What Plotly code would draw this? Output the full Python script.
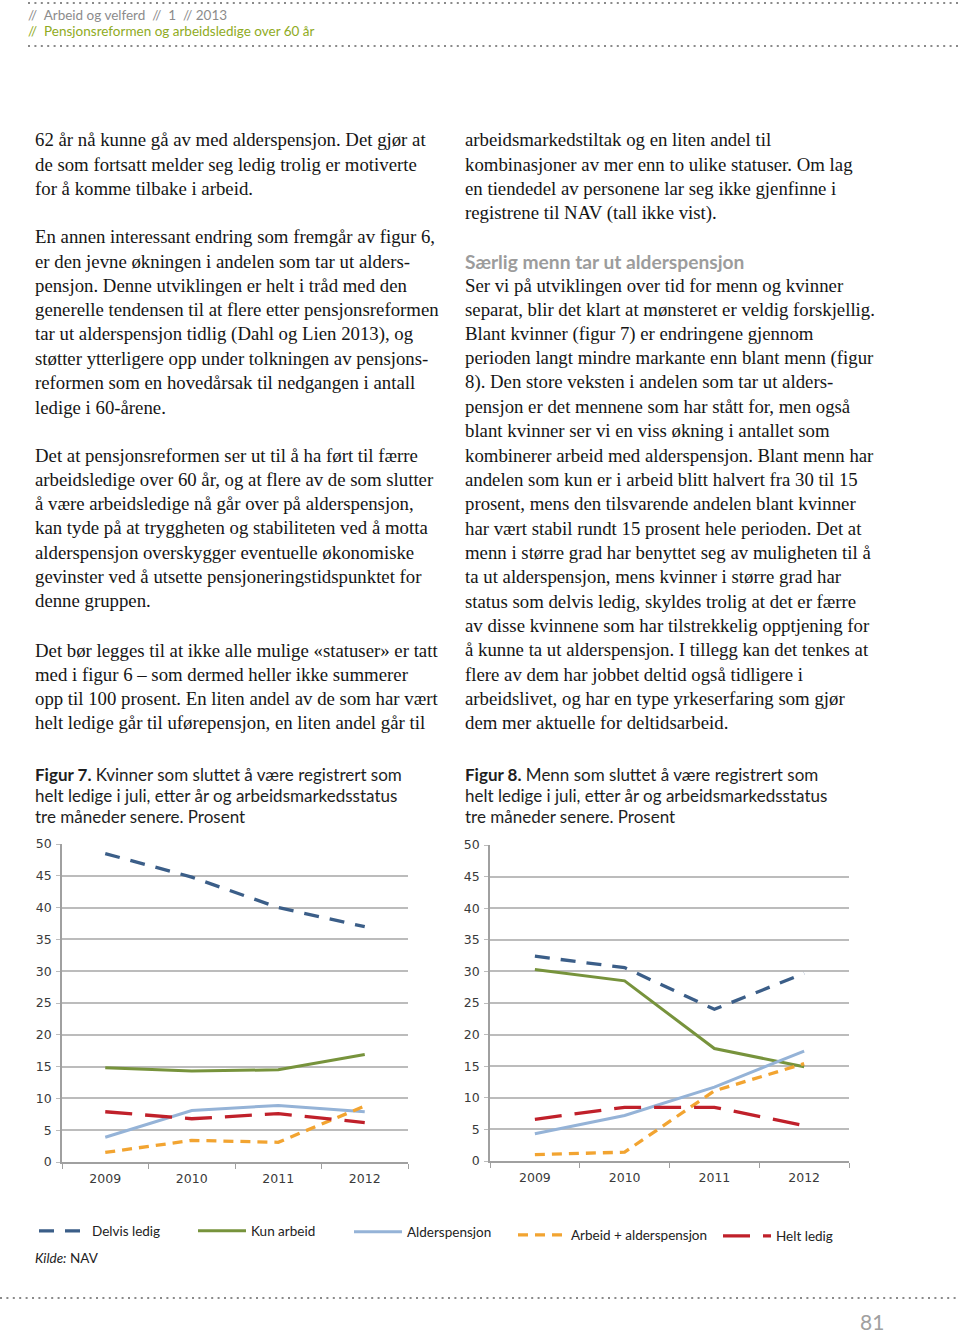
import plotly.graph_objects as go

# ---------------- data ----------------
years = ["2009", "2010", "2011", "2012"]
series_names = ["Delvis ledig", "Kun arbeid", "Alderspensjon", "Arbeid + alderspensjon", "Helt ledig"]

# Figur 7 - Kvinner
kvinner_delvis_ledig = [48.5, 44.8, 40.0, 37.0]
kvinner_kun_arbeid = [14.8, 14.3, 14.5, 16.9]
kvinner_alderspensjon = [3.9, 8.1, 8.9, 7.9]
kvinner_arbeid_alderspensjon = [1.5, 3.4, 3.1, 8.8]
kvinner_helt_ledig = [7.9, 6.8, 7.6, 6.2]

# Figur 8 - Menn
menn_delvis_ledig = [32.4, 30.6, 24.0, 29.7]
menn_kun_arbeid = [30.3, 28.5, 17.8, 14.9]
menn_alderspensjon = [4.3, 7.2, 11.7, 17.4]
menn_arbeid_alderspensjon = [1.0, 1.4, 11.1, 15.4]
menn_helt_ledig = [6.6, 8.5, 8.5, 5.6]

y_ticks = [0, 5, 10, 15, 20, 25, 30, 35, 40, 45, 50]

header_line1 = "//  Arbeid og velferd  //  1  // 2013"
header_line2 = "//  Pensjonsreformen og arbeidsledige over 60 år"

left_paragraphs = [
    ["62 år nå kunne gå av med alderspensjon. Det gjør at",
     "de som fortsatt melder seg ledig trolig er motiverte",
     "for å komme tilbake i arbeid."],
    ["En annen interessant endring som fremgår av figur 6,",
     "er den jevne økningen i andelen som tar ut alders-",
     "pensjon. Denne utviklingen er helt i tråd med den",
     "generelle tendensen til at flere etter pensjonsreformen",
     "tar ut alderspensjon tidlig (Dahl og Lien 2013), og",
     "støtter ytterligere opp under tolkningen av pensjons-",
     "reformen som en hovedårsak til nedgangen i antall",
     "ledige i 60-årene."],
    ["Det at pensjonsreformen ser ut til å ha ført til færre",
     "arbeidsledige over 60 år, og at flere av de som slutter",
     "å være arbeidsledige nå går over på alderspensjon,",
     "kan tyde på at tryggheten og stabiliteten ved å motta",
     "alderspensjon overskygger eventuelle økonomiske",
     "gevinster ved å utsette pensjoneringstidspunktet for",
     "denne gruppen."],
    ["Det bør legges til at ikke alle mulige «statuser» er tatt",
     "med i figur 6 – som dermed heller ikke summerer",
     "opp til 100 prosent. En liten andel av de som har vært",
     "helt ledige går til uførepensjon, en liten andel går til"],
]
right_paragraph1 = [
    "arbeidsmarkedstiltak og en liten andel til",
    "kombinasjoner av mer enn to ulike statuser. Om lag",
    "en tiendedel av personene lar seg ikke gjenfinne i",
    "registrene til NAV (tall ikke vist)."]
right_heading = "Særlig menn tar ut alderspensjon"
right_paragraph2 = [
    "Ser vi på utviklingen over tid for menn og kvinner",
    "separat, blir det klart at mønsteret er veldig forskjellig.",
    "Blant kvinner (figur 7) er endringene gjennom",
    "perioden langt mindre markante enn blant menn (figur",
    "8). Den store veksten i andelen som tar ut alders-",
    "pensjon er det mennene som har stått for, men også",
    "blant kvinner ser vi en viss økning i antallet som",
    "kombinerer arbeid med alderspensjon. Blant menn har",
    "andelen som kun er i arbeid blitt halvert fra 30 til 15",
    "prosent, mens den tilsvarende andelen blant kvinner",
    "har vært stabil rundt 15 prosent hele perioden. Det at",
    "menn i større grad har benyttet seg av muligheten til å",
    "ta ut alderspensjon, mens kvinner i større grad har",
    "status som delvis ledig, skyldes trolig at det er færre",
    "av disse kvinnene som har tilstrekkelig opptjening for",
    "å kunne ta ut alderspensjon. I tillegg kan det tenkes at",
    "flere av dem har jobbet deltid også tidligere i",
    "arbeidslivet, og har en type yrkeserfaring som gjør",
    "dem mer aktuelle for deltidsarbeid."]

caption7 = ["<b>Figur 7.</b> Kvinner som sluttet å være registrert som",
            "helt ledige i juli, etter år og arbeidsmarkedsstatus",
            "tre måneder senere. Prosent"]
caption8 = ["<b>Figur 8.</b> Menn som sluttet å være registrert som",
            "helt ledige i juli, etter år og arbeidsmarkedsstatus",
            "tre måneder senere. Prosent"]
source_text = "<i>Kilde:</i> NAV"
page_number = "81"

# ---------------- styles ----------------
W, H = 960, 1333
def fx(x):
    return x / W
def fy(y):
    return 1 - y / H

styles = [
    dict(color="#3b5e88", dash="15px,11px", width=3.3),
    dict(color="#77933c", dash="solid", width=3),
    dict(color="#95b3d7", dash="solid", width=3),
    dict(color="#f2a431", dash="10px,7px", width=3.3),
    dict(color="#c0202a", dash="27px,13px", width=3.3),
]

kvinner = [kvinner_delvis_ledig, kvinner_kun_arbeid, kvinner_alderspensjon,
           kvinner_arbeid_alderspensjon, kvinner_helt_ledig]
menn = [menn_delvis_ledig, menn_kun_arbeid, menn_alderspensjon,
        menn_arbeid_alderspensjon, menn_helt_ledig]

draw_order = [1, 2, 3, 4, 0]  # order of drawing (bottom to top)

fig = go.Figure()
legend_names = ["legend", "legend2", "legend3", "legend4", "legend5"]
for i in draw_order:
    fig.add_trace(go.Scatter(
        x=years, y=kvinner[i], name=series_names[i], mode="lines",
        line=styles[i], xaxis="x", yaxis="y",
        legend=legend_names[i], showlegend=True, hoverinfo="skip"))
for i in draw_order:
    fig.add_trace(go.Scatter(
        x=years, y=menn[i], name=series_names[i], mode="lines",
        line=styles[i], xaxis="x2", yaxis="y2",
        showlegend=False, hoverinfo="skip"))

tick_font = dict(family="DejaVu Sans", size=12.5, color="#3a3a3a")
grid_color = "#bcbcbc"

def xaxis_cfg(domain, anchor):
    return dict(domain=domain, anchor=anchor, type="category",
                categoryorder="array", categoryarray=years,
                range=[-0.5, 3.5], tickson="boundaries", ticks="outside",
                ticklen=5, tickcolor="#a0a0a0", tickwidth=1.3,
                ticklabelstandoff=4,
                showline=True, linecolor="#a0a0a0", linewidth=1.5,
                showgrid=False, tickfont=tick_font, fixedrange=True,
                automargin=False)

def yaxis_cfg(domain, anchor):
    return dict(domain=domain, anchor=anchor, range=[0, 50],
                tickvals=y_ticks, ticktext=[str(v) for v in y_ticks],
                ticks="outside", ticklen=4, tickcolor=grid_color,
                ticklabelstandoff=2,
                showline=True, linecolor="#a0a0a0", linewidth=1.5,
                showgrid=True, gridcolor=grid_color, gridwidth=1.5,
                zeroline=False, tickfont=tick_font, fixedrange=True,
                automargin=False)

legend_x = [38, 197, 353, 517, 722]
legend_y = [1231, 1231, 1232, 1235, 1236]
legend_cfgs = {}
for i, ln in enumerate(legend_names):
    legend_cfgs[ln] = dict(
        x=fx(legend_x[i] - 4), y=fy(legend_y[i]), xanchor="left", yanchor="middle",
        orientation="h", bgcolor="rgba(0,0,0,0)", borderwidth=0,
        font=dict(family="Lato", size=13.5, color="#222"),
        itemwidth=48, tracegroupgap=0)

annotations = []
def add_text(text, x, y, size, family, color="#111", xanchor="left"):
    annotations.append(dict(text=text, x=fx(x), y=fy(y), xref="paper", yref="paper",
                            xanchor=xanchor, yanchor="middle", showarrow=False,
                            borderpad=0,
                            font=dict(family=family, size=size, color=color)))

# header
add_text(header_line1, 27, 15, 13.5, "Lato", "#8c8c8c")
add_text(header_line2, 27, 31, 13.5, "Lato", "#8fab23")

body_font = "Liberation Serif"
body_size = 18.8
LH = 24.32
left_starts = [140, 237, 455, 650]
for start, para in zip(left_starts, left_paragraphs):
    for k, line in enumerate(para):
        add_text(line, 34, start + k * LH, body_size, body_font, "#151515")
for k, line in enumerate(right_paragraph1):
    add_text(line, 464, 140 + k * LH, body_size, body_font, "#151515")
add_text("<b>" + right_heading + "</b>", 464, 261, 19.2, "Lato", "#9c9c9c")
for k, line in enumerate(right_paragraph2):
    add_text(line, 464, 285 + k * LH, body_size, body_font, "#151515")

for k, line in enumerate(caption7):
    add_text(line, 34, 774 + k * 21, 17, "Lato", "#1e1e1e")
for k, line in enumerate(caption8):
    add_text(line, 464, 774 + k * 21, 17, "Lato", "#1e1e1e")

add_text(source_text, 34, 1258, 13.5, "Lato", "#222")
add_text(page_number, 872, 1321, 21, "Lato", "#a0a0a0", xanchor="center")

shapes = []
for (x0, x1, y) in [(28, 960, 3), (28, 960, 46), (0, 960, 1298)]:
    shapes.append(dict(type="line", xref="paper", yref="paper",
                       x0=fx(x0), x1=fx(x1), y0=fy(y), y1=fy(y),
                       line=dict(color="#8a8a8a", width=2, dash="2px,4.4px")))

fig.update_layout(
    width=W, height=H, autosize=False,
    margin=dict(l=0, r=0, t=0, b=0, pad=0, autoexpand=False),
    paper_bgcolor="white", plot_bgcolor="white",
    xaxis=xaxis_cfg([fx(62), fx(408)], "y"),
    yaxis=yaxis_cfg([fy(1162), fy(844)], "x"),
    xaxis2=xaxis_cfg([fx(490), fx(849)], "y2"),
    yaxis2=yaxis_cfg([fy(1161), fy(845)], "x2"),
    annotations=annotations, shapes=shapes,
    **legend_cfgs,
)

fig.write_html("out.html",
               config=dict(displayModeBar=False, responsive=False),
               post_script="document.body.style.margin='0';document.body.style.overflow='hidden';")
